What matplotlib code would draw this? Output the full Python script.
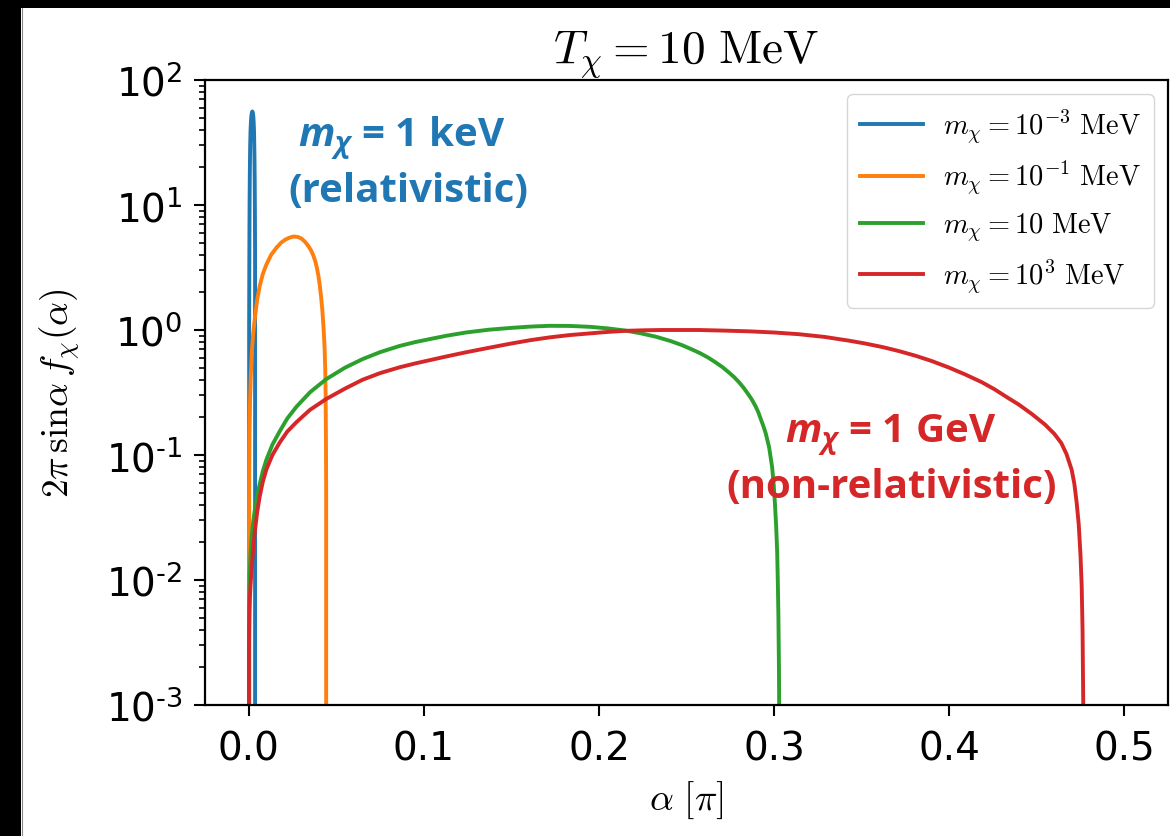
import matplotlib
matplotlib.use("Agg")
import matplotlib.pyplot as plt
from matplotlib.font_manager import FontProperties
from matplotlib.patches import Rectangle
from matplotlib.lines import Line2D
from matplotlib.ticker import NullFormatter, LogLocator

# fonts for the bold callouts (custom mathtext set)
plt.rcParams["mathtext.it"] = "Open Sans:italic:bold"
plt.rcParams["mathtext.rm"] = "Open Sans:bold"
plt.rcParams["mathtext.bf"] = "Open Sans:bold"

# ---- data: angular distribution 2*pi*sin(alpha)*f_chi(alpha), alpha in units of pi ----
alpha_1keV = [0.0000, 0.0002, 0.0003, 0.0004, 0.0005, 0.0006, 0.0008, 0.0010,
              0.0012, 0.0014, 0.0016, 0.0018, 0.0020, 0.0022, 0.0024, 0.0026,
              0.0028, 0.0030, 0.0031, 0.0032, 0.0033, 0.0034, 0.0035, 0.0036,
              0.0037]
f_1keV = [0.0, 1.0, 3.0, 7.0, 12.0, 18.0, 30.0, 39.0, 45.0, 50.0, 53.0, 55.0,
          56.0, 55.5, 54.0, 51.0, 46.0, 39.0, 33.0, 27.0, 21.0, 15.0, 9.0, 4.0,
          0.0]

alpha_100keV = [0.0000, 0.0002, 0.0004, 0.0008, 0.0012, 0.0018, 0.0025, 0.0034,
                0.0048, 0.0063, 0.0080, 0.0101, 0.0128, 0.0158, 0.0185, 0.0210,
                0.0235, 0.0258, 0.0280, 0.0300, 0.0320, 0.0340, 0.0355, 0.0367,
                0.0380, 0.0390, 0.0398, 0.0405, 0.0413, 0.0420, 0.0427, 0.0433,
                0.0437, 0.0439, 0.0441, 0.0442, 0.0443]
f_100keV = [0.0, 0.06, 0.15, 0.30, 0.45, 0.68, 0.93, 1.22, 1.75, 2.26, 2.8,
            3.35, 4.0, 4.55, 5.0, 5.3, 5.5, 5.6, 5.55, 5.4, 5.1, 4.7, 4.35, 4.0,
            3.55, 3.1, 2.7, 2.3, 1.85, 1.45, 1.05, 0.72, 0.47, 0.30, 0.12, 0.05,
            0.0]

alpha_10MeV = [0.0, 0.0002, 0.0005, 0.0010, 0.0015, 0.0025, 0.0034, 0.0048,
               0.0063, 0.0080, 0.0101, 0.0135, 0.0177, 0.0220, 0.0272, 0.0350,
               0.0443, 0.0550, 0.0650, 0.0750, 0.0861, 0.0950, 0.1032, 0.1130,
               0.1240, 0.1370, 0.1500, 0.1610, 0.1716, 0.1830, 0.1950, 0.2050,
               0.2150, 0.2240, 0.2330, 0.2410, 0.2476, 0.2530, 0.2580, 0.2625,
               0.2666, 0.2705, 0.2740, 0.2772, 0.2800, 0.2826, 0.2850, 0.2873,
               0.2894, 0.2910, 0.2923, 0.2938, 0.2952, 0.2972, 0.2989, 0.2998,
               0.3005, 0.3012, 0.3018, 0.3022, 0.3025, 0.3028, 0.3029, 0.3030]
f_10MeV = [0.0, 0.006, 0.011, 0.016, 0.021, 0.029, 0.036, 0.047, 0.059, 0.074,
           0.092, 0.121, 0.155, 0.196, 0.243, 0.318, 0.405, 0.50, 0.585, 0.665,
           0.745, 0.80, 0.845, 0.90, 0.955, 1.005, 1.04, 1.065, 1.08, 1.078,
           1.06, 1.03, 0.99, 0.94, 0.88, 0.815, 0.755, 0.70, 0.65, 0.60, 0.551,
           0.505, 0.46, 0.42, 0.382, 0.345, 0.31, 0.278, 0.246, 0.22, 0.196,
           0.172, 0.150, 0.115, 0.080, 0.058, 0.041, 0.027, 0.0166, 0.009,
           0.005, 0.002, 0.0012, 0.0]

alpha_1GeV = [0.0, 0.0001, 0.0002, 0.0004, 0.0006, 0.0010, 0.0015, 0.0024,
              0.0034, 0.0048, 0.0063, 0.0080, 0.0101, 0.0135, 0.0177, 0.0220,
              0.0272, 0.0350, 0.0443, 0.0550, 0.0650, 0.0750, 0.0861, 0.0950,
              0.1032, 0.1130, 0.1240, 0.1370, 0.1500, 0.1610, 0.1716, 0.1830,
              0.1950, 0.2050, 0.2150, 0.2260, 0.2360, 0.2460, 0.2570, 0.2700,
              0.2856, 0.3000, 0.3140, 0.3290, 0.3427, 0.3520, 0.3620, 0.3710,
              0.3807, 0.3900, 0.4000, 0.4090, 0.4187, 0.4260, 0.4330, 0.4400,
              0.4472, 0.4548, 0.4600, 0.4640, 0.4670, 0.4700, 0.4715, 0.4728,
              0.4740, 0.4750, 0.4757, 0.4762, 0.4766, 0.4770]
f_1GeV = [0.0, 0.0025, 0.0038, 0.0055, 0.007, 0.009, 0.0116, 0.017, 0.024,
          0.035, 0.047, 0.061, 0.077, 0.100, 0.126, 0.154, 0.183, 0.23, 0.281,
          0.34, 0.40, 0.452, 0.503, 0.54, 0.573, 0.615, 0.663, 0.72, 0.78, 0.83,
          0.872, 0.91, 0.94, 0.965, 0.985, 0.995, 1.0, 1.0, 1.0, 0.99, 0.976,
          0.955, 0.926, 0.88, 0.822, 0.78, 0.73, 0.68, 0.623, 0.565, 0.50, 0.442,
          0.382, 0.335, 0.29, 0.252, 0.213, 0.175, 0.148, 0.125, 0.102, 0.076,
          0.059, 0.042, 0.028, 0.016, 0.009, 0.004, 0.001, 0.0]

series_labels = [r"$m_\chi = 10^{-3}\ \mathrm{MeV}$",
                 r"$m_\chi = 10^{-1}\ \mathrm{MeV}$",
                 r"$m_\chi = 10\ \mathrm{MeV}$",
                 r"$m_\chi = 10^{3}\ \mathrm{MeV}$"]
series_colors = ["#1f77b4", "#ff7f0e", "#2ca02c", "#d62728"]

x_ticks = [0.0, 0.1, 0.2, 0.3, 0.4, 0.5]
x_tick_labels = ["0.0", "0.1", "0.2", "0.3", "0.4", "0.5"]
y_ticks = [1e-3, 1e-2, 1e-1, 1e0, 1e1, 1e2]
y_tick_labels = [r"10$^{\text{-3}}$", r"10$^{\text{-2}}$", r"10$^{\text{-1}}$",
                 r"10$^{0}$", r"10$^{1}$", r"10$^{2}$"]

# ---- figure ----
W, H = 1170, 837
fig = plt.figure(figsize=(W / 100, H / 100), dpi=100)
ax = fig.add_axes([205 / W, (H - 706) / H, 963 / W, 625 / H])

xs = [alpha_1keV, alpha_100keV, alpha_10MeV, alpha_1GeV]
ys = [f_1keV, f_100keV, f_10MeV, f_1GeV]
for x, y, c, lab in zip(xs, ys, series_colors, series_labels):
    ax.plot(x, y, color=c, lw=2.8, label=lab, solid_joinstyle="round")

ax.set_yscale("log")
ax.set_xlim(-0.025, 0.525)
ax.set_ylim(1e-3, 1e2)

ax.set_xticks(x_ticks, labels=x_tick_labels)
ax.set_yticks(y_ticks, labels=y_tick_labels)
ax.yaxis.set_minor_locator(LogLocator(base=10, subs=range(2, 10)))
ax.yaxis.set_minor_formatter(NullFormatter())

ax.tick_params(which="major", length=8, width=1.5, labelsize=28, pad=8)
ax.tick_params(which="minor", length=4.5, width=1.2)
ax.tick_params(axis="x", which="major", pad=10)
for s in ax.spines.values():
    s.set_linewidth(1.6)

cm = dict(math_fontfamily="cm")
ax.set_title(r"$T_\chi = 10\ \mathrm{MeV}$", fontsize=34, pad=4, **cm)
ax.set_xlabel(r"$\alpha\ [\pi]$", fontsize=27, labelpad=8, **cm)
ax.set_ylabel(r"$2\pi\,\sin\!\alpha\, f_\chi(\alpha)$", fontsize=27, labelpad=17, **cm)

leg = ax.legend(loc="upper right",
                prop=FontProperties(size=20.5, math_fontfamily="cm"),
                handlelength=2.2, labelspacing=0.5, borderpad=0.45,
                borderaxespad=0.5, handletextpad=0.7)

# bold callouts
def callout(x, y, s, color, size):
    fp = FontProperties(family="Open Sans", weight="bold", size=size,
                        math_fontfamily="custom")
    ax.text(x, y, s, transform=ax.transAxes, color=color, fontproperties=fp,
            ha="center", va="center")

callout(0.2046, 0.908, r"$m_\chi$ = 1 keV", "#1f77b4", 29)
callout(0.2108, 0.824, "(relativistic)", "#1f77b4", 29)
callout(0.712, 0.433, r"$m_\chi$ = 1 GeV", "#d62728", 29)
callout(0.713, 0.350, "(non-relativistic)", "#d62728", 29)

# dark frame along the top and left edges
fig.patches.append(Rectangle((0, 1 - 9 / H), 1, 9 / H, transform=fig.transFigure,
                             facecolor="black", edgecolor="none", zorder=10))
fig.patches.append(Rectangle((0, 0), 21 / W, 1, transform=fig.transFigure,
                             facecolor="black", edgecolor="none", zorder=10))
fig.lines.append(Line2D([21.5 / W, 21.5 / W], [0, 1 - 9 / H], transform=fig.transFigure,
                        color="#888888", lw=0.8, zorder=11))

fig.savefig("out.png", dpi=100)
